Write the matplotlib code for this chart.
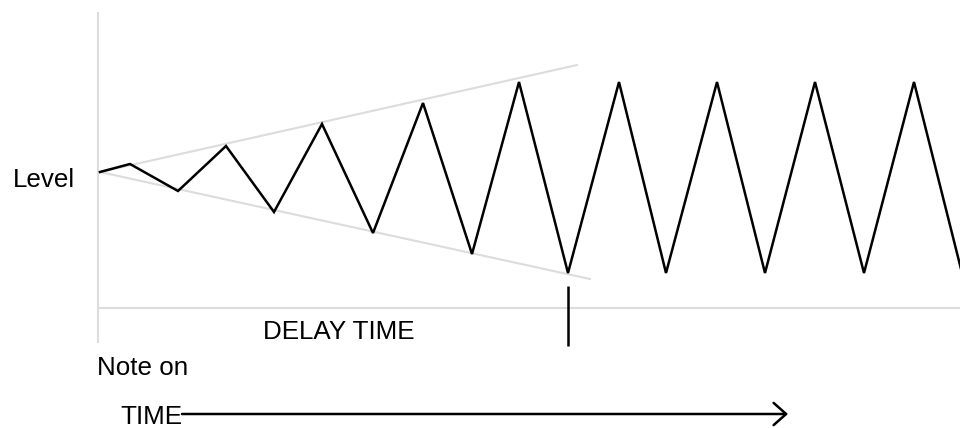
import matplotlib
matplotlib.use("Agg")
import matplotlib.pyplot as plt

plt.rcParams['font.family'] = ['Liberation Sans', 'DejaVu Sans']

# Time runs from "Note on" (0); level is measured from the resting level (0)
wave_time = [0, 30, 78, 126, 174, 222, 273, 323, 372, 419, 468,
             519, 566, 617, 665, 715, 764, 814, 862]
wave_level = [0, 8, -19, 26, -40, 48, -61, 69, -82, 90, -101,
              90, -101, 90, -101, 90, -101, 90, -101]

# envelope of the growing vibrato during the delay
upper_time = [0, 477]
upper_level = [0, 107]
lower_time = [0, 490]
lower_level = [0, -107]

delay_end = 468

fig = plt.figure(figsize=(9.6, 4.28), dpi=100)
ax = fig.add_axes([0, 0, 1, 1])
ax.set_xlim(-100, 860)
ax.set_ylim(-256, 172)
ax.axis('off')

grey = '#dcdcdc'

# frame lines
ax.plot([-2, -2], [160, -171], color=grey, lw=1.5, solid_capstyle='butt')
ax.plot([-2, 860], [-136, -136], color=grey, lw=1.5, solid_capstyle='butt')

# envelope
ax.plot(upper_time, upper_level, color=grey, lw=1.5)
ax.plot(lower_time, lower_level, color=grey, lw=1.5)

# waveform
ax.plot(wave_time, wave_level, color='black', lw=1.8, solid_joinstyle='miter')

# end of delay marker
ax.plot([delay_end, delay_end], [-114, -174], color='black', lw=1.8,
        solid_capstyle='butt')

fs = 18.7
ax.text(-87, -14.7, 'Level', fontsize=fs, ha='left', va='baseline')
ax.text(163, -167.3, 'DELAY TIME', fontsize=fs, ha='left', va='baseline')
ax.text(-3, -203, 'Note on', fontsize=fs, ha='left', va='baseline')
ax.text(20, -251.5, 'TIME', fontsize=fs, ha='left', va='baseline')

# time arrow
ax.annotate('', xy=(688, -242), xytext=(82, -242),
            arrowprops=dict(arrowstyle='->,head_length=0.9,head_width=0.8',
                            lw=1.8, color='black', mutation_scale=10,
                            shrinkA=0, shrinkB=0))

fig.savefig('out.png', dpi=100)
